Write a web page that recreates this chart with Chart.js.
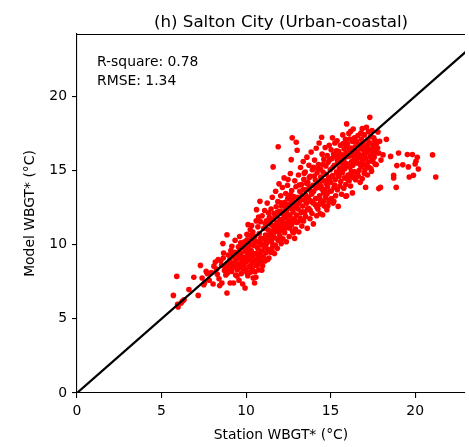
<!DOCTYPE html>
<html>
<head>
<meta charset="utf-8">
<script src="https://cdn.jsdelivr.net/npm/chart.js@4.4.1/dist/chart.umd.min.js"></script>
<style>
html, body { margin: 0; padding: 0; background: #fff; overflow: hidden; }
canvas { display: block; }
</style>
</head>
<body>
<canvas id="wbgtChart" width="469" height="447"></canvas>
<script>
const chartTitle = '(h) Salton City (Urban-coastal)';
const xTitle = 'Station WBGT* (°C)';
const yTitle = 'Model WBGT* (°C)';
const statLines = ['R-square: 0.78', 'RMSE: 1.34'];
const tickValues = [0, 5, 10, 15, 20];
const xLimit = [0, 22.95];
const yLimit = [0, 24.2];
const identityLine = [0, 25];

// [station, model] pairs, grouped by station range
const coolPairs = [
    [5.70,6.58],[5.90,7.86],[5.98,5.80],[5.95,5.98],[6.23,6.18],[6.33,6.29],[6.15,6.05],[6.62,6.97],
    [6.91,7.80],[7.17,6.58],[7.30,8.60],[7.40,7.75],[7.50,7.30],[7.54,7.42],[7.64,8.20],[7.70,8.05],
    [7.82,7.60],[7.95,8.12],[8.05,7.35],[8.18,8.83],[8.25,8.35],[8.30,8.00],[8.40,7.70],[8.44,7.24],
    [8.57,7.42],[8.63,10.07],[8.67,9.44],[8.55,8.60],[8.65,9.10],[8.72,8.25],[8.80,7.95],[8.87,6.74],
    [8.87,10.67],[8.90,8.75],[8.95,9.30],[8.50,8.90],[8.35,9.00],[8.10,8.55],[8.78,8.50],[8.92,8.10]
];
const mildPairs = [
    [9.02,8.40],[9.05,9.00],[9.06,7.42],[9.10,9.60],[9.16,9.89],[9.15,8.20],[9.20,8.75],[9.26,7.42],
    [9.28,9.20],[9.30,8.50],[9.35,10.30],[9.38,7.95],[9.40,8.95],[9.45,9.45],[9.48,8.30],[9.52,8.70],
    [9.55,9.85],[9.58,7.60],[9.60,9.10],[9.62,10.55],[9.65,8.45],[9.70,9.40],[9.72,8.05],[9.75,8.90],
    [9.78,9.95],[9.80,7.35],[9.85,9.15],[9.88,8.60],[9.90,10.20],[9.94,7.08],[9.95,9.55],[9.98,8.30],
    [10.02,8.85],[10.05,10.70],[10.08,9.30],[10.10,7.90],[10.12,11.35],[10.15,9.80],[10.18,8.50],[10.20,10.05],
    [10.22,9.05],[10.25,11.00],[10.28,8.15],[10.30,9.60],[10.32,10.40],[10.35,8.75],[10.38,9.25],[10.40,10.85],
    [10.42,7.75],[10.45,9.95],[10.48,8.95],[10.50,7.42],[10.52,10.55],[10.55,9.40],[10.58,7.80],[10.60,11.60],
    [10.62,12.36],[10.62,8.60],[10.65,10.20],[10.68,9.10],[10.70,11.20],[10.72,9.70],[10.75,8.30],[10.78,10.75],
    [10.80,9.35],[10.82,12.92],[10.85,11.55],[10.88,8.85],[10.90,10.00],[10.92,9.55],[10.95,11.95],[10.98,8.58],
    [11.00,10.40],[11.02,9.20],[11.05,11.10],[11.08,9.80],[11.10,12.30],[11.12,8.90],[11.15,10.65],[11.18,9.45],
    [11.20,11.60],[11.22,10.10],[11.25,12.80],[11.28,9.00],[11.30,11.00],[11.32,10.35],[11.35,9.10],[11.38,11.85],
    [11.40,9.65],[11.42,10.80],[11.46,9.48],[11.48,12.40],[11.50,10.20],[11.52,11.30],[11.55,13.20],[11.58,9.90],
    [11.60,15.24],[11.60,10.70],[11.62,11.75],[11.65,12.10],[11.68,9.40],[11.70,11.05],[11.72,10.45],[11.75,13.60],
    [11.78,12.55],[11.80,10.90],[11.82,11.50],[11.85,9.75],[11.88,12.90],[11.90,16.60],[11.90,10.30],[11.92,11.20],
    [11.95,14.10],[11.98,12.25],
    [9.12,8.62],[9.33,9.48],[9.47,7.88],[9.63,9.72],[9.81,8.38],[9.92,9.03],[10.04,8.12],[10.17,9.48],
    [10.27,10.62],[10.36,8.41],[10.47,10.28],[10.57,8.93],[10.66,9.83],[10.77,9.02],[10.87,10.42],[10.96,9.18],
    [9.22,9.34],[9.41,8.55],[9.57,9.27],[9.73,8.72],[9.87,9.78],[10.01,9.62],[10.13,8.98],[10.24,8.58],
    [10.41,9.42],[10.53,8.17],[10.71,8.68],[10.83,10.12],[10.93,8.27],[9.68,10.12],[10.06,10.32],[10.33,11.28],
    [10.74,11.86],
    [11.04,10.02],[11.13,11.42],[11.24,9.72],[11.36,10.62],[11.44,11.62],[11.56,10.48],[11.64,11.28],[11.73,9.98],
    [11.84,12.18],[11.93,10.82],[11.17,10.32],[11.33,12.14],[11.53,9.62],[11.67,10.92],[11.87,11.02],[11.27,11.52],
    [11.47,10.92],[11.77,11.92],[11.97,11.52]
];
const warmPairs = [
    [12.00,10.60],[12.02,11.70],[12.05,13.30],[12.08,10.07],[12.10,12.60],[12.12,11.00],[12.15,13.85],[12.18,10.40],
    [12.20,12.05],[12.22,11.40],[12.25,14.50],[12.28,10.80],[12.30,12.85],[12.32,11.85],[12.35,13.45],[12.38,10.20],
    [12.40,12.30],[12.42,11.15],[12.45,14.00],[12.48,14.39],[12.50,11.60],[12.52,12.70],[12.55,10.55],[12.58,13.10],
    [12.60,11.95],[12.62,14.80],[12.65,12.45],[12.67,15.73],[12.68,11.30],[12.70,13.65],[12.73,17.20],[12.75,10.90],
    [12.78,12.20],[12.80,10.80],[12.82,13.25],[12.85,11.75],[12.88,14.30],[12.90,12.65],[12.92,11.05],[12.95,13.90],
    [12.97,16.90],[12.98,12.00],
    [12.03,11.36],[12.14,12.22],[12.23,10.92],[12.33,12.52],[12.43,11.48],[12.53,12.02],[12.63,13.36],[12.72,11.62],
    [12.83,12.48],[12.93,11.52],[12.07,12.82],[12.27,11.22],[12.47,13.12],[12.57,11.12],[12.77,13.02],[12.87,10.42],
    [12.17,11.72],[12.37,12.02],[12.67,12.82],
    [13.02,16.36],[13.02,11.50],[13.05,13.20],[13.08,12.40],[13.10,14.70],[13.12,10.85],[13.15,12.90],[13.18,13.60],
    [13.20,11.80],[13.22,15.20],[13.25,12.15],[13.28,14.05],[13.30,11.25],[13.32,13.35],[13.35,12.60],[13.38,15.60],
    [13.40,11.60],[13.42,14.40],[13.45,13.00],[13.48,12.20],[13.50,14.90],[13.52,11.90],[13.55,13.70],[13.58,12.80],
    [13.60,15.90],[13.62,11.10],[13.65,14.20],[13.68,13.15],[13.70,12.45],[13.72,15.35],[13.75,13.90],[13.78,11.75],
    [13.80,14.60],[13.82,12.95],[13.85,16.25],[13.88,13.40],[13.90,12.10],[13.92,15.05],[13.95,14.00],[13.98,11.40],
    [13.04,12.72],[13.14,14.02],[13.24,13.02],[13.34,12.22],[13.44,14.82],[13.54,13.32],[13.64,12.42],[13.74,14.52],
    [13.84,13.62],[13.94,12.82],[13.19,11.62],[13.39,13.72],[13.59,14.12],[13.79,12.32],[13.99,15.22],
    [14.00,13.60],[14.05,15.70],[14.08,12.70],[14.10,14.35],[14.12,13.10],[14.15,16.50],[14.18,11.95],[14.20,14.85],
    [14.22,13.85],[14.25,12.40],[14.28,15.40],[14.30,14.10],[14.32,16.85],[14.35,13.30],[14.38,12.10],[14.39,13.03],
    [14.40,15.10],[14.42,14.55],[14.45,12.85],[14.47,17.24],[14.48,13.75],[14.50,16.10],[14.53,12.02],[14.55,14.90],
    [14.58,13.50],[14.60,15.75],[14.62,12.60],[14.65,14.30],[14.68,16.55],[14.70,13.20],[14.72,15.30],[14.75,14.75],
    [14.78,12.35],[14.80,16.00],[14.82,13.90],[14.85,15.55],[14.88,14.45],[14.90,12.90],[14.92,16.70],[14.95,13.60],
    [14.96,13.03],[14.98,15.05],
    [14.04,14.62],[14.14,13.82],[14.24,15.12],[14.34,12.72],[14.44,13.92],[14.54,15.42],[14.64,13.72],[14.74,14.12],
    [14.84,12.62],[14.94,15.72],[14.19,12.52],[14.39,14.22],[14.59,12.92],[14.79,13.42],[14.99,14.52]
];
const hotPairs = [
    [15.00,14.20],[15.03,16.40],[15.05,13.10],[15.08,15.80],[15.11,17.20],[15.12,14.65],[15.15,12.80],[15.18,16.10],
    [15.20,13.85],[15.22,15.35],[15.25,16.85],[15.28,14.40],[15.30,13.30],[15.32,15.95],[15.35,14.90],[15.38,17.00],
    [15.40,13.70],[15.42,15.50],[15.45,12.58],[15.48,16.30],[15.50,14.60],[15.52,15.15],[15.55,13.95],[15.58,16.70],
    [15.60,14.25],[15.62,15.70],[15.65,13.40],[15.68,16.05],[15.70,14.85],[15.72,17.40],[15.75,15.30],[15.78,13.80],
    [15.80,16.45],[15.82,14.50],[15.85,15.90],[15.88,17.10],[15.90,14.05],[15.90,13.26],[15.92,16.20],[15.95,18.14],
    [15.95,13.30],[15.98,15.45],
    [15.04,13.62],[15.14,15.22],[15.24,14.02],[15.34,16.32],[15.44,14.72],[15.19,12.92],[15.39,15.72],
    [15.54,16.02],[15.64,14.92],[15.74,16.82],[15.84,15.12],[15.94,16.62],[15.59,15.52],[15.79,15.62],[15.99,14.42],
    [16.00,16.80],[16.03,14.70],[16.05,15.95],[16.08,17.50],[16.10,14.30],[16.12,16.40],[16.15,15.20],[16.18,13.95],
    [16.19,17.64],[16.20,16.00],[16.22,14.90],[16.25,15.60],[16.29,13.49],[16.30,16.95],[16.32,15.35],[16.34,17.80],
    [16.35,14.55],[16.38,16.25],[16.40,15.80],[16.42,17.20],[16.44,14.45],[16.45,16.60],[16.48,14.38],[16.50,17.00],
    [16.52,15.70],[16.55,16.30],[16.58,14.80],[16.60,15.50],[16.62,17.35],[16.65,16.10],[16.68,15.00],[16.70,16.75],
    [16.72,15.85],[16.75,14.20],[16.78,16.45],[16.80,15.25],[16.82,17.10],[16.85,16.00],[16.87,17.82],[16.87,14.45],
    [16.90,15.65],[16.92,16.90],[16.95,15.40],[16.98,16.30],
    [16.04,15.32],[16.14,17.12],[16.24,14.62],[16.34,16.12],[16.44,15.52],[16.54,16.92],[16.64,14.62],[16.74,15.42],
    [16.84,16.62],[16.94,17.42],[16.19,16.52],[16.39,14.92],[16.59,16.02],[16.79,17.52],[16.99,14.82],
    [17.00,17.40],[17.03,15.05],[17.05,16.60],[17.07,13.86],[17.10,15.80],[17.12,17.91],[17.15,16.20],[17.18,14.70],
    [17.20,17.05],[17.22,15.55],[17.25,16.45],[17.28,15.20],[17.30,16.85],[17.32,18.58],[17.35,15.95],[17.38,17.30],
    [17.40,16.30],[17.42,14.95],[17.45,17.70],[17.48,16.05],[17.50,15.60],[17.52,16.70],[17.55,17.20],[17.58,15.90],
    [17.60,16.40],[17.65,17.00],[17.70,15.40],[17.75,16.20],[17.80,17.60],[17.85,16.18],[17.85,13.78],[17.90,16.97],
    [17.95,13.86],[17.98,15.70],
    [17.04,16.12],[17.14,15.32],[17.24,17.62],[17.34,16.42],[17.44,15.72],[17.54,16.32],[17.64,15.42],[17.72,16.82],
    [17.19,16.72],[17.39,15.12],[17.59,17.02],[17.78,16.52]
];
const tailPairs = [
    [18.10,16.05],[18.30,17.10],[18.55,15.95],[18.73,14.67],[18.73,14.50],[18.88,13.86],[18.92,15.33],[19.02,16.18],
    [19.27,15.39],[19.54,16.07],[19.60,15.24],[19.65,14.56],[19.84,16.07],[19.90,14.67],[20.00,15.44],[20.05,15.62],
    [20.13,15.89],[20.19,15.10],[21.03,16.05],[21.22,14.56]
];

const allPairs = [...coolPairs, ...mildPairs, ...warmPairs, ...hotPairs, ...tailPairs];

const decorations = {
    id: 'decorations',
    afterDraw(chart) {
        const { ctx, chartArea } = chart;
        ctx.save();
        ctx.strokeStyle = '#000';
        ctx.lineWidth = 1.1;
        ctx.beginPath();
        ctx.moveTo(chartArea.left, chartArea.top + 0.5);
        ctx.lineTo(chartArea.right, chartArea.top + 0.5);
        ctx.stroke();

        ctx.fillStyle = '#000';
        ctx.textBaseline = 'alphabetic';
        ctx.textAlign = 'center';
        ctx.font = '16.7px "DejaVu Sans"';
        ctx.fillText(chartTitle, 281, 26.5);
        ctx.font = '13.9px "DejaVu Sans"';
        ctx.fillText(xTitle, 281, 438.5);

        ctx.textAlign = 'left';
        statLines.forEach((line, i) => ctx.fillText(line, chartArea.left + 20, 65.5 + i * 19));

        ctx.translate(30.5, (chartArea.top + chartArea.bottom) / 2);
        ctx.rotate(-Math.PI / 2);
        ctx.textAlign = 'center';
        ctx.textBaseline = 'middle';
        ctx.fillText(yTitle, 0, 0);
        ctx.restore();
    }
};

function axisOptions(limit, fitSize) {
    return {
        type: 'linear',
        min: limit[0],
        max: limit[1],
        afterBuildTicks: (scale) => { scale.ticks = tickValues.map(v => ({ value: v })); },
        afterFit: fitSize,
        grid: { drawOnChartArea: false, drawTicks: true, tickLength: 5, color: '#000', lineWidth: 1.1 },
        border: { display: true, color: '#000', width: 1.1 },
        ticks: {
            color: '#000',
            font: { family: 'DejaVu Sans', size: 13.9 },
            padding: 5,
            maxRotation: 0,
            autoSkip: false
        }
    };
}

Chart.defaults.animation = false;

new Chart(document.getElementById('wbgtChart'), {
    type: 'scatter',
    data: {
        datasets: [
            {
                label: '1:1',
                data: identityLine.map(v => ({ x: v, y: v })),
                showLine: true,
                borderColor: '#000',
                borderWidth: 2.2,
                pointRadius: 0,
                order: 0
            },
            {
                label: 'WBGT',
                data: allPairs.map(p => ({ x: p[0], y: p[1] })),
                backgroundColor: '#ff0000',
                borderWidth: 0,
                pointRadius: 2.8,
                order: 1
            }
        ]
    },
    options: {
        responsive: false,
        layout: { padding: { top: 34, right: 0, bottom: 0, left: 0 } },
        plugins: {
            legend: { display: false },
            tooltip: { enabled: false }
        },
        scales: {
            x: axisOptions(xLimit, (s) => { s.height = 54; }),
            y: axisOptions(yLimit, (s) => { s.width = 77; })
        }
    },
    plugins: [decorations]
});
</script>
</body>
</html>
